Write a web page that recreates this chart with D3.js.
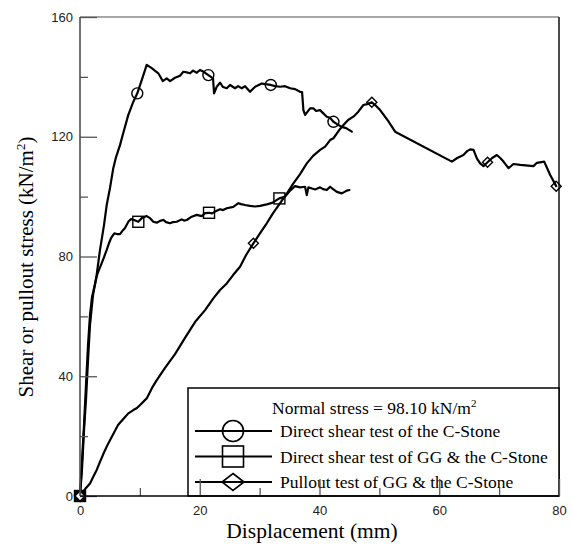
<!DOCTYPE html>
<html>
<head>
<meta charset="utf-8">
<script src="https://cdn.jsdelivr.net/npm/d3@7"></script>
<style>
  html, body { margin: 0; padding: 0; background: #fff; }
  svg { display: block; }
</style>
</head>
<body>
<div id="chart"></div>
<script>
// Direct shear test of the C-Stone: [displacement (mm), stress (kN/m²)]
const shearStone = [
  [0,0],[0.33,8.7],[0.67,22.0],[1.0,32.1],[1.34,45.4],[1.67,57.1],[2.17,67.1],[2.76,73.5],
  [3.34,82.2],[4.01,90.5],[4.46,97.2],[5.01,102.9],[5.56,109.5],[6.02,113.2],[6.68,117.2],
  [7.35,122.2],[8.07,127.3],[8.91,131.7],[9.57,134.5],[10.31,138.9],[11.14,144.0],[11.98,142.9],
  [13.08,141.2],[13.82,138.6],[14.49,139.5],[15.04,138.6],[15.87,139.7],[16.71,140.4],
  [17.26,141.7],[17.83,141.5],[18.38,141.2],[18.88,142.1],[19.50,141.4],[20.05,142.3],
  [20.72,141.6],[21.44,140.6],[22.22,139.5],[22.39,134.5],[22.84,136.7],[23.39,138.1],
  [23.89,136.6],[24.51,136.2],[25.06,137.3],[25.90,136.2],[26.40,136.9],[27.02,136.2],
  [27.57,136.9],[28.40,135.0],[29.24,136.7],[30.36,137.8],[30.91,137.6],[31.86,137.3],
  [32.58,136.9],[33.42,136.7],[34.25,136.9],[35.09,136.2],[35.92,135.9],[36.76,135.0],
  [37.09,134.9],[37.31,128.9],[37.59,127.3],[38.43,129.5],[38.98,129.5],[39.43,128.6],
  [40.10,128.9],[40.60,127.9],[41.22,126.7],[41.77,126.3],[42.33,125.0],[42.94,124.2],
  [43.73,123.3],[44.44,122.9],[45.40,121.7]
];
const shearStoneMarks = [[0,0],[9.57,134.5],[21.44,140.6],[31.86,137.3],[42.33,125.0]];

// Direct shear test of GG & the C-Stone
const shearGG = [
  [0,0],[0.33,11.4],[0.67,23.7],[1.00,37.1],[1.34,50.4],[1.67,60.5],[2.01,66.5],[2.51,70.8],
  [2.79,73.5],[3.17,75.5],[3.63,77.8],[4.01,79.8],[4.46,82.2],[4.85,84.5],[5.18,86.1],
  [5.73,87.7],[6.18,87.5],[6.68,87.5],[7.18,88.8],[7.52,89.5],[8.07,91.6],[8.52,92.5],
  [9.02,92.2],[9.74,91.6],[10.36,92.9],[11.14,93.5],[11.70,92.8],[12.25,91.6],[12.82,91.3],
  [13.37,91.9],[13.92,92.2],[14.37,91.5],[15.04,91.1],[15.54,91.5],[16.16,91.6],[16.99,92.4],
  [17.38,92.0],[17.83,92.2],[18.66,93.3],[19.50,93.9],[20.33,93.5],[20.89,94.5],[21.55,94.6],
  [22.06,94.4],[22.56,95.0],[23.39,95.8],[23.89,95.5],[24.51,96.1],[25.61,96.6],[26.45,97.8],
  [26.90,97.5],[27.57,97.2],[28.40,96.9],[29.24,96.7],[30.08,96.9],[31.19,97.4],[32.08,97.9],
  [33.30,99.4],[34.25,100.0],[34.75,101.2],[35.09,102.0],[35.92,103.5],[36.76,103.1],
  [37.59,103.3],[37.88,100.5],[38.14,103.1],[38.76,102.7],[39.27,102.4],[40.10,103.1],
  [40.60,102.5],[41.22,102.2],[41.77,103.3],[42.27,102.5],[42.89,101.6],[43.73,101.1],
  [44.11,101.5],[44.56,102.0],[45.0,102.2]
];
const shearGGMarks = [[0,0],[9.74,91.6],[21.55,94.6],[33.30,99.4]];

// Pullout test of GG & the C-Stone
const pullout = [
  [0,0],[1.0,2.7],[1.67,4.2],[2.22,6.4],[2.79,8.7],[3.34,11.4],[3.89,14.0],[4.68,17.4],
  [5.56,20.7],[6.35,23.7],[7.23,25.7],[8.07,27.6],[8.91,28.7],[9.52,29.4],[10.03,30.4],
  [11.14,32.6],[12.03,36.1],[12.82,38.7],[14.2,42.8],[15.87,47.4],[17.54,52.8],[19.21,58.1],
  [20.89,62.1],[22.27,66.0],[23.39,68.8],[24.51,71.0],[25.57,73.8],[26.73,76.6],[27.74,80.5],
  [28.96,84.4],[30.08,87.8],[31.19,91.1],[32.25,94.5],[33.42,97.8],[34.59,101.2],[35.64,104.4],
  [36.76,107.5],[37.88,111.1],[38.93,113.6],[40.10,115.6],[40.94,116.7],[41.77,118.9],
  [42.33,119.5],[43.44,122.6],[44.0,123.9],[44.78,125.6],[45.66,126.7],[46.45,128.3],
  [47.33,130.6],[47.95,130.9],[48.74,131.5],[49.46,130.3],[50.13,128.9],[51.46,125.3],
  [52.63,121.7],[62.11,111.7],[63.0,112.9],[64.04,113.9],[64.66,115.2],[65.16,115.8],
  [65.72,115.6],[65.92,114.6],[66.28,112.8],[66.83,111.1],[67.39,110.2],[68.06,111.5],
  [68.84,112.9],[69.62,113.9],[70.18,112.9],[70.73,111.7],[71.56,109.5],[72.40,110.9],
  [73.52,110.6],[75.74,110.2],[76.31,111.3],[77.53,111.7],[78.53,107.2],[79.53,103.5]
];
const pulloutMarks = [[0,0],[28.96,84.4],[48.74,131.5],[68.06,111.5],[79.53,103.5]];

const xMajorTicks = [0, 20, 40, 60, 80];
const xMinorTicks = [10, 30, 50, 70];
const yMajorTicks = [0, 40, 80, 120, 160];
const yMinorTicks = [20, 60, 100, 140];

const legendTitle = "Normal stress = 98.10 kN/m";
const seriesNames = [
  "Direct shear test of the C-Stone",
  "Direct shear test of GG & the C-Stone",
  "Pullout test of GG & the C-Stone"
];

const W = 573, H = 545;
const svg = d3.select("#chart").append("svg").attr("width", W).attr("height", H);

const x = d3.scaleLinear().domain([0, 80]).range([80, 559]);
const y = d3.scaleLinear().domain([0, 160]).range([496, 17]);

const serif = "'Liberation Serif', 'Times New Roman', serif";
const sans = "'Liberation Sans', Arial, sans-serif";

// Plot frame
svg.append("line").attr("x1", x(0)).attr("x2", x(80)).attr("y1", y(160)).attr("y2", y(160))
  .attr("stroke", "#8a8a8a").attr("stroke-width", 1.5);
svg.append("line").attr("x1", x(80)).attr("x2", x(80)).attr("y1", y(160)).attr("y2", y(0))
  .attr("stroke", "#111").attr("stroke-width", 1.5);

const line = d3.line().x(d => x(d[0])).y(d => y(d[1]));
const curves = svg.append("g").attr("fill", "none").attr("stroke", "#000")
  .attr("stroke-width", 2.2).attr("stroke-linejoin", "round").attr("stroke-linecap", "round");
[shearStone, shearGG, pullout].forEach(s => curves.append("path").attr("d", line(s)));

// Markers
const mk = svg.append("g").attr("fill", "none").attr("stroke", "#000").attr("stroke-width", 1.4);
function circleMark(g, cx, cy, r) {
  return g.append("circle").attr("cx", cx).attr("cy", cy).attr("r", r);
}
function squareMark(g, cx, cy, s) {
  return g.append("rect").attr("x", cx - s / 2).attr("y", cy - s / 2).attr("width", s).attr("height", s);
}
function diamondMark(g, cx, cy, w, h) {
  return g.append("path").attr("d", `M${cx},${cy - h / 2}L${cx + w / 2},${cy}L${cx},${cy + h / 2}L${cx - w / 2},${cy}Z`);
}
// The three series share the origin point; stacked markers read as a dark block there
shearStoneMarks.forEach(d => circleMark(mk, x(d[0]), y(d[1]), 5.5));
shearGGMarks.forEach(d => {
  const m = squareMark(mk, x(d[0]), y(d[1]), 11);
  if (d[0] === 0 && d[1] === 0) m.attr("fill", "#000");
});
pulloutMarks.forEach(d => {
  const m = diamondMark(mk, x(d[0]), y(d[1]), 10, 10);
  if (d[0] === 0 && d[1] === 0) m.attr("fill", "#fff").attr("stroke", "#000").attr("stroke-width", 1.2);
});

// Legend
const lg = svg.append("g");
lg.append("rect").attr("x", 188).attr("y", 388).attr("width", x(80) - 188).attr("height", y(0) - 388)
  .attr("fill", "#fff").attr("stroke", "#000").attr("stroke-width", 1.5);
const lt = lg.append("text").attr("x", 272).attr("y", 414)
  .attr("font-family", serif).attr("font-size", 17.5).text(legendTitle);
lt.append("tspan").attr("font-size", 11).attr("dy", -7).text("2");

const rowY = [431, 456.5, 482];
const lm = lg.append("g").attr("fill", "none").attr("stroke", "#000");
rowY.forEach((ry, i) => {
  lm.append("line").attr("x1", 195).attr("x2", 272).attr("y1", ry).attr("y2", ry).attr("stroke-width", 2.2);
  lg.append("text").attr("x", 280).attr("y", ry + 6).attr("font-family", serif)
    .attr("font-size", 17.5).text(seriesNames[i]);
});
const lmk = lm.append("g").attr("stroke-width", 1.6);
circleMark(lmk, 233, rowY[0], 10.5);
squareMark(lmk, 233, rowY[1], 21);
diamondMark(lmk, 233, rowY[2], 22, 17);

// Axes with inward ticks
const tickColor = "#555";
function styleAxis(g) {
  g.selectAll(".tick line").attr("stroke", tickColor).attr("stroke-width", 1.3);
  g.selectAll(".tick text").attr("font-family", sans).attr("font-size", 13).attr("fill", "#222");
}
const xAxis = svg.append("g").attr("transform", `translate(0,${y(0)})`)
  .call(d3.axisBottom(x).tickValues(xMajorTicks).tickSize(-17).tickPadding(10).tickFormat(d3.format("d")));
xAxis.select(".domain").remove();
styleAxis(xAxis);
const xMinor = svg.append("g").attr("transform", `translate(0,${y(0)})`)
  .call(d3.axisBottom(x).tickValues(xMinorTicks).tickSize(-8).tickFormat(""));
xMinor.select(".domain").remove();
styleAxis(xMinor);

const yAxis = svg.append("g").attr("transform", `translate(${x(0)},0)`)
  .call(d3.axisLeft(y).tickValues(yMajorTicks).tickSize(-17).tickPadding(7).tickFormat(d3.format("d")));
yAxis.select(".domain").remove();
styleAxis(yAxis);
const yMinor = svg.append("g").attr("transform", `translate(${x(0)},0)`)
  .call(d3.axisLeft(y).tickValues(yMinorTicks).tickSize(-8).tickFormat(""));
yMinor.select(".domain").remove();
styleAxis(yMinor);

// Axis lines
svg.append("line").attr("x1", x(0)).attr("x2", x(80)).attr("y1", y(0)).attr("y2", y(0))
  .attr("stroke", "#000").attr("stroke-width", 1.5);
svg.append("line").attr("x1", x(0)).attr("x2", x(0)).attr("y1", y(160)).attr("y2", y(0))
  .attr("stroke", "#444").attr("stroke-width", 1.5);

// Axis titles
svg.append("text").attr("x", 312).attr("y", 537.5).attr("text-anchor", "middle")
  .attr("font-family", serif).attr("font-size", 21.5).text("Displacement (mm)");
const yt = svg.append("text").attr("transform", "translate(33,267) rotate(-90)")
  .attr("text-anchor", "middle").attr("font-family", serif).attr("font-size", 21)
  .text("Shear or pullout stress (kN/m");
yt.append("tspan").attr("font-size", 13).attr("dy", -8).text("2");
yt.append("tspan").attr("dy", 8).text(")");
</script>
</body>
</html>
